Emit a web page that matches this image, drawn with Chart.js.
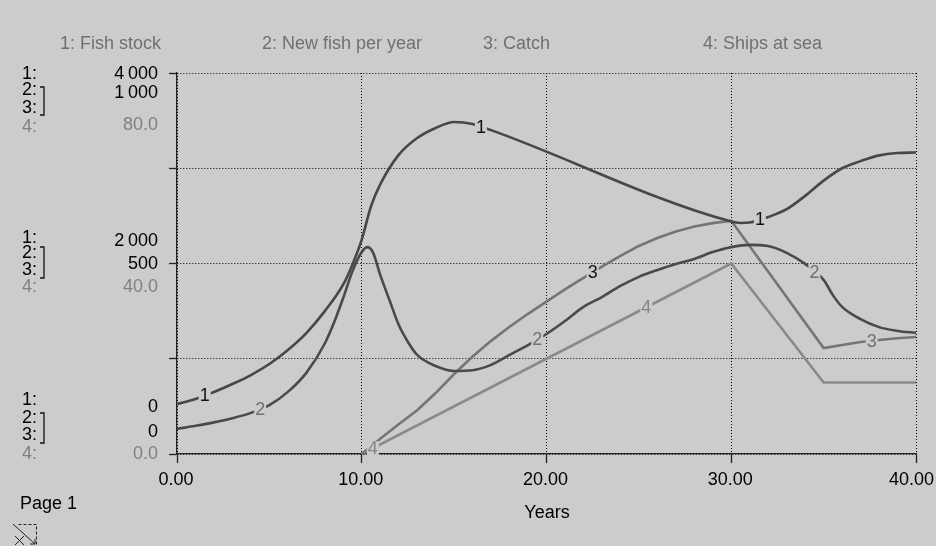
<!DOCTYPE html>
<html><head><meta charset="utf-8">
<script src="https://cdn.jsdelivr.net/npm/chart.js@4"></script>
<style>html,body{margin:0;padding:0;background:#cccccc;} canvas{display:block;}</style>
</head><body>
<canvas id="c" width="936" height="546"></canvas>
<script>
// ---------- data ----------
const seriesNames = ['1: Fish stock', '2: New fish per year', '3: Catch', '4: Ships at sea'];

const fishYears = [0,1,2,3,4,5,6,7,8,9,9.5,10,10.5,11,12,13,14,15,16,17,30,30.5,31,32,33,34,35,36,37,38,39,40];
const fishStock = [525,577,651,735,829,945,1092,1270,1500,1780,1990,2250,2600,2830,3140,3317,3423,3486,3465,3400,2440,2425,2430,2488,2570,2710,2870,3000,3075,3135,3160,3165];

const newFishYears = [0,1,2,3,4,5,6,7,8,8.5,9,9.5,10,10.3,10.6,11,11.5,12,12.5,13,14,15,16,17,18,19,20,21,22,23,24,25,26,27,28,29,30,31,32,33,34,35,35.5,36,37,38,39,40];
const newFish = [66,74,83,94,108,128,163,213,290,345,410,480,530,543,530,470,404,339,294,260,231,218,220,234,260,286,315,349,386,412,441,465,483,499,512,530,543,549,546,528,499,457,417,386,354,333,323,318];

const catchYears = [10,11,12,13,14,15,16,17,18,19,20,21,22,23,24,25,26,27,28,29,30,35,36,37,38,39,40];
const catchVals = [0,40,78,115,160,210,256,297,334,368,400,432,462,492,520,546,567,584,597,606,612,278,286,294,299,304,307];

const shipYears = [10,30,35,40];
const ships = [0,40,15,15];

const fishTicks = ['0', '2\u2009000', '4\u2009000'];
const flowTicks = ['0', '500', '1\u2009000'];
const shipTicks = ['0.0', '40.0', '80.0'];
const xTitle = 'Years';
const pageLabel = 'Page 1';

// curve number labels: series index, year
const curveLabels = [
  {s:0, t:1.5, c:'#111'}, {s:0, t:16.45, c:'#111'}, {s:0, t:31.55, c:'#111'},
  {s:1, t:4.5, c:'#707070'}, {s:1, t:19.5, c:'#707070'}, {s:1, t:34.5, c:'#707070'},
  {s:2, t:22.5, c:'#111'}, {s:2, t:37.6, c:'#707070'},
  {s:3, t:10.6, c:'#858585'}, {s:3, t:25.4, c:'#858585'}
];

// ---------- chart ----------
const FONT_FAMILY = '"Liberation Sans", Arial, Helvetica, sans-serif';
Chart.defaults.font.family = FONT_FAMILY;
Chart.defaults.font.size = 18;
Chart.defaults.color = '#000';

const toXY = (xs, ys) => xs.map((x, i) => ({x: x, y: ys[i]}));
const seriesXs = [fishYears, newFishYears, catchYears, shipYears];
const seriesYs = [fishStock, newFish, catchVals, ships];
const seriesAxes = ['y', 'y2', 'y2', 'y4'];
const lineColors = ['#474747', '#4a4a4a', '#757575', '#8a8a8a'];

function interp(xs, ys, t) {
  for (let i = 0; i < xs.length - 1; i++) {
    if (t >= xs[i] && t <= xs[i+1]) {
      const f = (t - xs[i]) / (xs[i+1] - xs[i]);
      return ys[i] + f * (ys[i+1] - ys[i]);
    }
  }
  return ys[ys.length - 1];
}

const textPlugin = {
  id: 'texts',
  afterDatasetsDraw(chart) {
    const ctx = chart.ctx;
    ctx.save();
    ctx.font = '18px ' + FONT_FAMILY;
    ctx.textAlign = 'center';
    ctx.textBaseline = 'middle';
    curveLabels.forEach(l => {
      const xs = seriesXs[l.s], ys = seriesYs[l.s];
      const v = interp(xs, ys, l.t);
      const px = chart.scales.x.getPixelForValue(l.t);
      const py = chart.scales[seriesAxes[l.s]].getPixelForValue(v);
      const txt = String(l.s + 1);
      ctx.fillStyle = '#cccccc';
      ctx.fillRect(px - 6, py - 7, 12, 14);
      ctx.fillStyle = l.c;
      ctx.fillText(txt, px, py + 1);
    });
    ctx.restore();
  },
  afterDraw(chart) {
    const ctx = chart.ctx;
    const W = chart.width;
    ctx.save();
    ctx.font = '18px ' + FONT_FAMILY;
    ctx.textBaseline = 'middle';
    // x tick labels (kept inside the canvas)
    const xs = chart.scales.x;
    ctx.fillStyle = '#000';
    ctx.textAlign = 'center';
    xs.ticks.forEach(tk => {
      const txt = Number(tk.value).toFixed(2);
      const w = ctx.measureText(txt).width;
      let px = xs.getPixelForValue(tk.value) - 1;
      px = Math.min(px, W - w / 2 - 2);
      ctx.fillText(txt, px, 480);
    });
    // header legend
    ctx.fillStyle = '#707070';
    ctx.textAlign = 'left';
    const hx = [60, 262, 483, 703];
    seriesNames.forEach((n, i) => ctx.fillText(n, hx[i], 44));
    // left axis blocks
    const blocks = [
      {k:2, rows:[74,90,108,127], nums:[74,93,125], br:[87,115]},
      {k:1, rows:[238,253,270,287], nums:[241,264,287], br:[247,278]},
      {k:0, rows:[400,418,435,454], nums:[407,432,454], br:[413,443]}
    ];
    blocks.forEach(b => {
      ctx.textAlign = 'left';
      ['1:', '2:', '3:', '4:'].forEach((r, i) => {
        ctx.fillStyle = i === 3 ? '#808080' : '#000';
        ctx.fillText(r, 22, b.rows[i]);
      });
      ctx.textAlign = 'right';
      ctx.fillStyle = '#000';
      ctx.fillText(fishTicks[b.k], 158, b.nums[0]);
      ctx.fillText(flowTicks[b.k], 158, b.nums[1]);
      ctx.fillStyle = '#808080';
      ctx.fillText(shipTicks[b.k], 158, b.nums[2]);
      ctx.strokeStyle = '#111';
      ctx.lineWidth = 1.3;
      ctx.beginPath();
      ctx.moveTo(40, b.br[0]); ctx.lineTo(44, b.br[0]); ctx.lineTo(44, b.br[1]); ctx.lineTo(40, b.br[1]);
      ctx.stroke();
    });
    // axis title & page
    ctx.fillStyle = '#000';
    ctx.textAlign = 'center';
    ctx.fillText(xTitle, 547, 513);
    ctx.textAlign = 'left';
    ctx.fillText(pageLabel, 20, 504);
    // icon
    ctx.strokeStyle = '#222';
    ctx.lineWidth = 1;
    ctx.setLineDash([3, 2]);
    ctx.beginPath();
    ctx.moveTo(18.5, 524.5); ctx.lineTo(36.5, 524.5); ctx.lineTo(36.5, 545);
    ctx.stroke();
    ctx.setLineDash([]);
    ctx.beginPath();
    ctx.moveTo(13, 524); ctx.lineTo(35, 544);
    ctx.moveTo(30, 544); ctx.lineTo(35, 544); ctx.lineTo(35, 539);
    ctx.moveTo(15, 536); ctx.lineTo(24, 545);
    ctx.moveTo(24, 536); ctx.lineTo(15, 545);
    ctx.stroke();
    ctx.restore();
  }
};

const datasets = seriesNames.map((n, i) => ({
  label: n,
  data: toXY(seriesXs[i], seriesYs[i]),
  yAxisID: seriesAxes[i],
  borderColor: lineColors[i],
  borderWidth: 2.6,
  pointRadius: 0,
  fill: false,
  tension: (i === 0 || i === 1) ? 0.4 : 0,
  cubicInterpolationMode: (i === 0 || i === 1) ? 'monotone' : 'default'
}));

new Chart(document.getElementById('c'), {
  type: 'line',
  data: {datasets: datasets},
  options: {
    responsive: false,
    devicePixelRatio: 1,
    animation: false,
    events: [],
    layout: {padding: {left: 0, top: 73, right: 20, bottom: 0}},
    plugins: {legend: {display: false}, tooltip: {enabled: false}, title: {display: false}},
    scales: {
      x: {
        type: 'linear', min: 0, max: 40,
        ticks: {stepSize: 10, maxRotation: 0, display: false},
        grid: {color: '#000', lineWidth: 1, tickLength: 9, tickColor: '#222', tickWidth: 1.3},
        border: {display: true, color: '#222', width: 1.3, dash: [1, 2]},
        afterFit: s => { s.height = 92; s.paddingLeft = 0; s.paddingRight = 0; }
      },
      y: {
        position: 'left', min: 0, max: 4000,
        ticks: {stepSize: 1000, display: false},
        grid: {color: '#000', lineWidth: 1, tickLength: 8, tickColor: '#222', tickWidth: 1.3},
        border: {display: true, color: '#222', width: 1.3, dash: [1, 2]},
        afterFit: s => { s.width = 177; s.paddingTop = 0; s.paddingBottom = 0; }
      },
      y2: {position: 'left', min: 0, max: 1000, display: false},
      y4: {position: 'left', min: 0, max: 80, display: false}
    }
  },
  plugins: [textPlugin]
});
</script>
</body></html>
